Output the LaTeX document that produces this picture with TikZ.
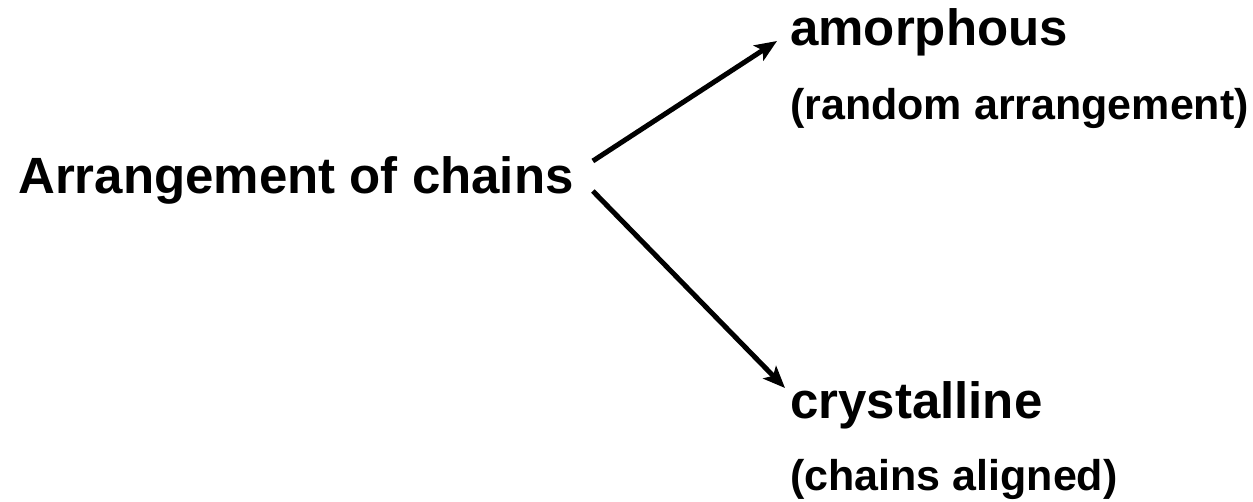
\documentclass[tikz,border=0pt]{standalone}
\usepackage{fontspec}
\setmainfont{Liberation Sans}
\usetikzlibrary{arrows.meta}
\tikzset{
  big/.style={font=\fontsize{51}{60}\selectfont\bfseries, inner sep=0pt, anchor=base west},
  small/.style={font=\fontsize{43}{50}\selectfont\bfseries, inner sep=0pt, anchor=base west},
  arr/.style={line width=5pt, -{Stealth[length=22pt,width=18pt,inset=5pt]}}
}
\begin{document}
\begin{tikzpicture}[x=1pt,y=-1pt]
\useasboundingbox (0,0) rectangle (1253,502);
\node[big] (src) at (18,194) {Arrangement of chains};
\node[big] (amor) at (790,46) {amorphous};
\node[small] (amorsub) at (790,120) {(random arrangement)};
\node[big] (cryst) at (790,419) {crystalline};
\node[small] (crystsub) at (790,490) {(chains aligned)};
\draw[arr] ([shift={(19,-33)}]src.base east) -- ([shift={(-13,-5)}]amor.base west);
\draw[arr] ([shift={(19,-3)}]src.base east) -- ([shift={(-5,-31)}]cryst.base west);
\end{tikzpicture}
\end{document}
